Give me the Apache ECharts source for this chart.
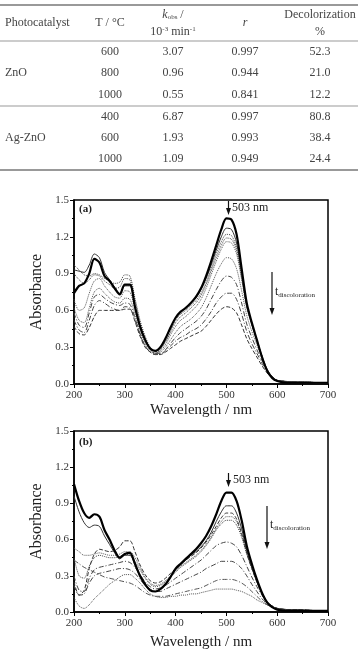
<!DOCTYPE html>
<html>
<head>
<meta charset="utf-8">
<script src="https://cdn.jsdelivr.net/npm/echarts@6/dist/echarts.min.js"></script>
<style>
html, body { margin: 0; padding: 0; background: #fff; }
#main { width: 358px; height: 651px; }
</style>
</head>
<body>
<div id="main"></div>
<script>
// table
var catalysts = ['ZnO', 'Ag-ZnO'];
var temps = ['600', '800', '1000', '400', '600', '1000'];
var kobs = ['3.07', '0.96', '0.55', '6.87', '1.93', '1.09'];
var rVals = ['0.997', '0.944', '0.841', '0.997', '0.993', '0.949'];
var decol = ['52.3', '21.0', '12.2', '80.8', '38.4', '24.4'];

// spectra, wavelength in nm
var wl = [200,210,220,230,240,250,260,270,280,290,300,310,320,330,340,350,360,370,380,390,400,410,420,430,440,450,460,470,480,490,500,510,520,530,540,550,560,570,580,590,600,620,640,660,680,700];

// (a)
var a1 = [0.74,0.80,0.82,0.90,1.02,0.99,0.88,0.84,0.78,0.73,0.81,0.81,0.63,0.47,0.36,0.29,0.27,0.30,0.37,0.46,0.54,0.59,0.62,0.66,0.71,0.78,0.88,1.00,1.13,1.26,1.35,1.34,1.22,0.94,0.66,0.50,0.36,0.22,0.11,0.05,0.025,0.01,0.01,0.01,0.01,0.01];
var a2 = [0.93,0.92,0.91,0.97,1.06,1.03,0.91,0.85,0.79,0.74,0.80,0.80,0.63,0.47,0.36,0.29,0.27,0.30,0.37,0.46,0.54,0.59,0.62,0.66,0.70,0.77,0.86,0.97,1.09,1.20,1.27,1.26,1.15,0.90,0.64,0.49,0.35,0.22,0.11,0.05,0.025,0.012,0.01,0.01,0.01,0.01];
var a3 = [0.97,0.93,0.89,0.88,0.90,0.89,0.86,0.84,0.82,0.83,0.89,0.88,0.70,0.52,0.39,0.30,0.26,0.29,0.35,0.44,0.52,0.57,0.60,0.64,0.68,0.74,0.83,0.94,1.06,1.16,1.22,1.21,1.11,0.88,0.64,0.49,0.36,0.23,0.12,0.06,0.03,0.02,0.015,0.015,0.01,0.01];
var a4 = [0.90,0.85,0.82,0.85,0.89,0.88,0.84,0.81,0.78,0.79,0.86,0.85,0.68,0.50,0.37,0.29,0.25,0.28,0.34,0.42,0.50,0.55,0.58,0.62,0.66,0.72,0.81,0.92,1.03,1.13,1.19,1.18,1.09,0.87,0.64,0.49,0.36,0.23,0.12,0.06,0.03,0.02,0.015,0.02,0.01,0.01];
var a5 = [0.69,0.60,0.62,0.74,0.84,0.86,0.80,0.75,0.71,0.70,0.76,0.75,0.61,0.46,0.35,0.28,0.25,0.27,0.32,0.40,0.47,0.52,0.55,0.59,0.63,0.69,0.78,0.89,1.00,1.10,1.16,1.15,1.06,0.85,0.62,0.48,0.35,0.23,0.12,0.06,0.03,0.02,0.02,0.015,0.01,0.01];
var a6 = [0.62,0.52,0.50,0.62,0.75,0.78,0.74,0.70,0.67,0.66,0.70,0.69,0.57,0.43,0.33,0.27,0.25,0.26,0.30,0.36,0.42,0.47,0.50,0.53,0.57,0.62,0.70,0.80,0.90,0.98,1.03,1.02,0.94,0.76,0.56,0.43,0.32,0.21,0.12,0.06,0.03,0.02,0.02,0.015,0.01,0.01];
var a7 = [0.58,0.48,0.46,0.58,0.71,0.73,0.70,0.67,0.65,0.64,0.66,0.65,0.54,0.41,0.31,0.26,0.25,0.25,0.28,0.33,0.38,0.42,0.45,0.48,0.51,0.55,0.61,0.69,0.77,0.84,0.88,0.87,0.81,0.66,0.49,0.38,0.28,0.19,0.11,0.06,0.03,0.02,0.015,0.015,0.01,0.01];
var a8 = [0.52,0.44,0.42,0.52,0.64,0.68,0.66,0.63,0.61,0.60,0.63,0.62,0.52,0.40,0.31,0.26,0.24,0.24,0.27,0.31,0.35,0.38,0.40,0.43,0.45,0.48,0.53,0.59,0.66,0.71,0.74,0.74,0.69,0.57,0.43,0.33,0.25,0.17,0.10,0.05,0.03,0.02,0.015,0.01,0.01,0.01];
var a9 = [0.47,0.41,0.40,0.46,0.55,0.60,0.60,0.60,0.60,0.60,0.61,0.61,0.51,0.39,0.30,0.26,0.24,0.24,0.26,0.29,0.32,0.35,0.37,0.39,0.41,0.43,0.47,0.52,0.57,0.61,0.63,0.62,0.58,0.48,0.37,0.29,0.22,0.15,0.09,0.05,0.03,0.02,0.015,0.01,0.01,0.01];

// (b)
var b1 = [1.06,0.92,0.82,0.78,0.81,0.79,0.68,0.60,0.51,0.45,0.48,0.49,0.40,0.30,0.23,0.18,0.17,0.19,0.23,0.29,0.36,0.40,0.44,0.48,0.52,0.57,0.63,0.71,0.81,0.92,0.99,0.99,0.92,0.76,0.55,0.40,0.27,0.16,0.08,0.04,0.02,0.01,0.01,0.01,0.01,0.01];
var b2 = [0.96,0.83,0.74,0.70,0.72,0.71,0.63,0.56,0.49,0.44,0.47,0.47,0.39,0.29,0.22,0.18,0.17,0.19,0.23,0.29,0.35,0.39,0.43,0.47,0.50,0.54,0.59,0.66,0.75,0.83,0.88,0.88,0.82,0.69,0.51,0.37,0.25,0.15,0.08,0.04,0.02,0.01,0.01,0.01,0.01,0.01];
var b3 = [0.25,0.14,0.18,0.36,0.48,0.52,0.51,0.50,0.51,0.54,0.59,0.59,0.50,0.39,0.31,0.26,0.24,0.25,0.28,0.32,0.36,0.40,0.43,0.46,0.49,0.53,0.58,0.64,0.71,0.78,0.82,0.82,0.77,0.65,0.49,0.36,0.25,0.15,0.08,0.05,0.03,0.02,0.02,0.015,0.01,0.01];
var b4 = [0.53,0.50,0.47,0.47,0.48,0.49,0.48,0.47,0.47,0.48,0.50,0.50,0.45,0.37,0.29,0.24,0.22,0.23,0.26,0.30,0.34,0.38,0.41,0.44,0.47,0.51,0.56,0.62,0.69,0.75,0.79,0.79,0.75,0.64,0.49,0.37,0.26,0.16,0.09,0.05,0.03,0.02,0.02,0.015,0.01,0.01];
var b5 = [0.45,0.30,0.28,0.38,0.45,0.47,0.46,0.45,0.45,0.46,0.48,0.47,0.42,0.35,0.28,0.23,0.21,0.22,0.25,0.29,0.33,0.37,0.40,0.43,0.46,0.50,0.55,0.61,0.68,0.73,0.76,0.76,0.72,0.62,0.48,0.36,0.25,0.16,0.09,0.05,0.03,0.02,0.02,0.015,0.01,0.01];
var b6 = [0.30,0.18,0.17,0.28,0.35,0.37,0.38,0.39,0.40,0.41,0.42,0.41,0.37,0.31,0.25,0.21,0.19,0.20,0.22,0.25,0.28,0.31,0.34,0.37,0.40,0.43,0.47,0.51,0.55,0.57,0.58,0.57,0.54,0.47,0.38,0.29,0.21,0.14,0.08,0.05,0.03,0.02,0.02,0.015,0.01,0.01];
var b7 = [0.22,0.14,0.15,0.24,0.30,0.32,0.33,0.34,0.35,0.36,0.36,0.35,0.32,0.27,0.22,0.19,0.17,0.17,0.19,0.21,0.23,0.25,0.27,0.29,0.31,0.33,0.36,0.38,0.40,0.42,0.42,0.42,0.40,0.36,0.30,0.23,0.17,0.11,0.07,0.04,0.03,0.02,0.015,0.015,0.01,0.01];
var b8 = [0.43,0.40,0.37,0.35,0.33,0.31,0.29,0.28,0.27,0.26,0.25,0.24,0.22,0.19,0.16,0.14,0.13,0.13,0.13,0.14,0.15,0.16,0.17,0.18,0.19,0.20,0.22,0.24,0.26,0.27,0.27,0.27,0.26,0.24,0.21,0.17,0.13,0.09,0.06,0.04,0.03,0.02,0.015,0.01,0.01,0.01];
var b9 = [0.12,0.05,0.03,0.06,0.11,0.15,0.19,0.23,0.26,0.29,0.31,0.31,0.28,0.24,0.19,0.15,0.13,0.12,0.12,0.13,0.13,0.14,0.14,0.15,0.15,0.16,0.17,0.18,0.19,0.19,0.19,0.19,0.18,0.17,0.15,0.13,0.10,0.08,0.06,0.04,0.03,0.02,0.02,0.015,0.01,0.01];

var xTicks = [200, 700, 100];
var yTicks = [0, 1.5, 0.3];

var serif = '"Liberation Serif", "DejaVu Serif", serif';
var tcol = '#444';

// line looks, in the order of the arrays above
var looksA = [
	{ w: 2.2, type: 'solid', c: '#000' },
	{ w: 1, type: 'solid', c: '#333' },
	{ w: 1, type: 'dotted', c: '#444' },
	{ w: 1, type: 'dotted', c: '#444' },
	{ w: 1, type: 'dotted', c: '#555' },
	{ w: 1, type: 'dotted', c: '#555' },
	{ w: 1, type: [5, 2, 1, 2], c: '#444' },
	{ w: 1, type: [5, 2, 1, 2], c: '#444' },
	{ w: 1, type: [4, 2], c: '#333' }
];
var looksB = [
	{ w: 2.2, type: 'solid', c: '#000' },
	{ w: 1, type: 'solid', c: '#333' },
	{ w: 1, type: [4, 2], c: '#333' },
	{ w: 1, type: 'dotted', c: '#555' },
	{ w: 1, type: 'dotted', c: '#444' },
	{ w: 1, type: [5, 2, 1, 2], c: '#444' },
	{ w: 1, type: [5, 2, 1, 2], c: '#444' },
	{ w: 1, type: [5, 2, 1, 2], c: '#555' },
	{ w: 1, type: 'dotted', c: '#555' }
];

function pairs(ys) {
	return wl.map(function (w, i) { return [w, ys[i]]; });
}

var series = [];
[a1, a2, a3, a4, a5, a6, a7, a8, a9].forEach(function (ys, i) {
	var lk = looksA[i];
	series.push({
		type: 'line', xAxisIndex: 0, yAxisIndex: 0, data: pairs(ys),
		showSymbol: false, smooth: 0.3, silent: true, z: 10 - i,
		lineStyle: { width: lk.w, type: lk.type, color: lk.c }
	});
});
[b1, b2, b3, b4, b5, b6, b7, b8, b9].forEach(function (ys, i) {
	var lk = looksB[i];
	series.push({
		type: 'line', xAxisIndex: 1, yAxisIndex: 1, data: pairs(ys),
		showSymbol: false, smooth: 0.3, silent: true, z: 10 - i,
		lineStyle: { width: lk.w, type: lk.type, color: lk.c }
	});
});

function xAxis(idx, gap) {
	return {
		type: 'value', gridIndex: idx, min: xTicks[0], max: xTicks[1], interval: xTicks[2],
		name: 'Wavelength / nm', nameLocation: 'middle', nameGap: gap,
		nameTextStyle: { fontFamily: serif, fontSize: 15, color: '#222' },
		axisLine: { lineStyle: { color: '#000', width: 1.5 } },
		axisTick: { inside: false, length: 4, lineStyle: { color: '#000' } },
		minorTick: { show: true, splitNumber: 2, length: 2, lineStyle: { color: '#000' } },
		axisLabel: { fontFamily: serif, fontSize: 11, color: '#333', margin: 6 },
		splitLine: { show: false }
	};
}
function yAxis(idx) {
	return {
		type: 'value', gridIndex: idx, min: yTicks[0], max: yTicks[1], interval: yTicks[2],
		name: 'Absorbance', nameLocation: 'middle', nameGap: 23,
		nameTextStyle: { fontFamily: serif, fontSize: 16, color: '#222' },
		axisLine: { show: true, lineStyle: { color: '#000', width: 1.5 } },
		axisTick: { show: true, inside: false, length: 4, lineStyle: { color: '#000' } },
		minorTick: { show: true, splitNumber: 2, length: 2, lineStyle: { color: '#000' } },
		axisLabel: { fontFamily: serif, fontSize: 11, color: '#333', margin: 5,
			formatter: function (v) { return v.toFixed(1); } },
		splitLine: { show: false }
	};
}

// table graphics
var graphic = [];
function text(x, y, t, align, size, extra) {
	var st = { text: t, x: x, y: y, fontFamily: serif, fontSize: size || 12, fill: tcol,
		align: align || 'center', verticalAlign: 'middle' };
	for (var k in extra) st[k] = extra[k];
	return { type: 'text', style: st, z: 100 };
}
function hline(y, w) {
	return { type: 'line', shape: { x1: 0, y1: y, x2: 358, y2: y }, style: { stroke: '#999', lineWidth: w }, z: 100 };
}
graphic.push(hline(5, 2), hline(41, 1), hline(106, 1), hline(170, 2));
graphic.push(text(5, 23, 'Photocatalyst', 'left'));
graphic.push(text(110, 23, 'T / \u00B0C'));
graphic.push(text(173, 15, '{i|k}{sub|obs} /', 'center', 12, {
	rich: { i: { fontStyle: 'italic', fontFamily: serif, fontSize: 12, fill: tcol },
		sub: { fontFamily: serif, fontSize: 7, fill: tcol, padding: [5, 0, 0, 0] } } }));
graphic.push(text(173, 32, '10{sup|-3} min{sup|-1}', 'center', 12, {
	rich: { sup: { fontFamily: serif, fontSize: 7, fill: tcol, padding: [0, 0, 5, 0] } } }));
graphic.push(text(245, 23, 'r', 'center', 12, { fontStyle: 'italic' }));
graphic.push(text(320, 15, 'Decolorization'));
graphic.push(text(320, 32, '%'));
var rowY = [52, 73, 95, 117, 138, 159];
graphic.push(text(5, rowY[1], catalysts[0], 'left'));
graphic.push(text(5, rowY[4], catalysts[1], 'left'));
rowY.forEach(function (y, i) {
	graphic.push(text(110, y, temps[i]));
	graphic.push(text(173, y, kobs[i]));
	graphic.push(text(245, y, rVals[i]));
	graphic.push(text(320, y, decol[i]));
});

// annotations on the plots
function arrow(x, y1, y2) {
	return [
		{ type: 'line', shape: { x1: x, y1: y1, x2: x, y2: y2 - 5 }, style: { stroke: '#111', lineWidth: 1.2 }, z: 100 },
		{ type: 'polygon', shape: { points: [[x - 2.5, y2 - 7], [x + 2.5, y2 - 7], [x, y2]] }, style: { fill: '#111' }, z: 100 }
	];
}
function tdisc(x, y) {
	return text(x, y, '{t|t}{s|discoloration}', 'left', 12, {
		rich: { t: { fontFamily: serif, fontSize: 12, fill: '#222' },
			s: { fontFamily: serif, fontSize: 7, fill: '#222', padding: [7, 0, 0, 0] } } });
}
graphic = graphic.concat(arrow(228.5, 201, 215), arrow(272, 272, 315), arrow(228.5, 473, 487), arrow(267, 506, 549));
graphic.push(text(79, 209, '(a)', 'left', 11, { fontWeight: 'bold', fill: '#222' }));
graphic.push(text(79, 442, '(b)', 'left', 11, { fontWeight: 'bold', fill: '#222' }));
graphic.push(text(232, 208, '503 nm', 'left', 12, { fill: '#222' }));
graphic.push(text(233, 480, '503 nm', 'left', 12, { fill: '#222' }));
graphic.push(tdisc(275, 292));
graphic.push(tdisc(270, 525));

var chart = echarts.init(document.getElementById('main'));
chart.setOption({
	animation: false,
	backgroundColor: '#fff',
	grid: [
		{ left: 74, top: 200, width: 254, height: 184, show: true, borderColor: '#000', borderWidth: 1.5, backgroundColor: 'transparent' },
		{ left: 74, top: 431, width: 254, height: 185, show: true, borderColor: '#000', borderWidth: 1.5, backgroundColor: 'transparent' }
	],
	xAxis: [xAxis(0, 19), xAxis(1, 23)],
	yAxis: [yAxis(0), yAxis(1)],
	series: series,
	graphic: graphic
});
</script>
</body>
</html>
